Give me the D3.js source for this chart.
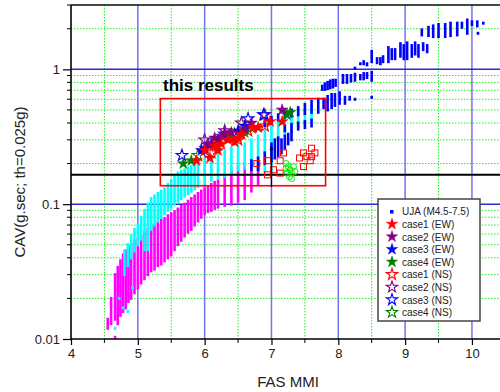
<!DOCTYPE html>
<html>
<head>
<meta charset="utf-8">
<script src="https://cdn.jsdelivr.net/npm/d3@7"></script>
<style>
  html, body { margin: 0; padding: 0; background: #fff; }
  svg text { font-family: "Liberation Sans", Arial, sans-serif; }
</style>
</head>
<body>
<div id="chart"></div>
<script>
// UJA columns: [FAS MMI, CAV low, CAV high]
const ujaMagenta = [
  [4.55, 0.012, 0.014], [4.60, 0.013, 0.020], [4.66, 0.0103, 0.0103], [4.66, 0.014, 0.030],
  [4.70, 0.013, 0.034], [4.74, 0.015, 0.038], [4.78, 0.016, 0.042], [4.82, 0.017, 0.045],
  [4.86, 0.019, 0.048], [4.90, 0.020, 0.050], [4.95, 0.022, 0.053], [5.00, 0.024, 0.055],
  [5.05, 0.026, 0.058], [5.10, 0.028, 0.062], [5.15, 0.030, 0.065], [5.20, 0.032, 0.068],
  [5.25, 0.033, 0.070], [5.30, 0.035, 0.073], [5.35, 0.036, 0.076], [5.40, 0.038, 0.078],
  [5.45, 0.040, 0.082], [5.50, 0.042, 0.085], [5.55, 0.046, 0.088], [5.60, 0.050, 0.092],
  [5.65, 0.054, 0.096], [5.70, 0.058, 0.100], [5.75, 0.062, 0.105], [5.80, 0.065, 0.110],
  [5.85, 0.070, 0.115], [5.90, 0.075, 0.120], [5.95, 0.080, 0.125], [6.00, 0.085, 0.130],
  [6.05, 0.088, 0.135], [6.10, 0.090, 0.140], [6.15, 0.093, 0.145], [6.20, 0.095, 0.150],
  [6.30, 0.098, 0.160], [6.40, 0.100, 0.175], [6.50, 0.105, 0.190], [6.60, 0.110, 0.200],
  [6.70, 0.125, 0.210], [6.80, 0.140, 0.205]
];
const ujaCyan = [
  [4.66, 0.012, 0.012], [4.72, 0.020, 0.020], [4.78, 0.017, 0.017], [4.85, 0.016, 0.016],
  [4.92, 0.024, 0.024], [4.80, 0.030, 0.045], [4.85, 0.035, 0.050], [4.90, 0.040, 0.058],
  [4.95, 0.045, 0.065], [5.00, 0.050, 0.070], [5.05, 0.055, 0.080], [5.10, 0.046, 0.090],
  [5.15, 0.046, 0.100], [5.20, 0.065, 0.110], [5.25, 0.070, 0.115], [5.30, 0.075, 0.120],
  [5.35, 0.080, 0.125], [5.40, 0.085, 0.130], [5.45, 0.090, 0.140], [5.50, 0.095, 0.150],
  [5.55, 0.100, 0.160], [5.60, 0.105, 0.170], [5.65, 0.110, 0.175], [5.70, 0.115, 0.180],
  [5.75, 0.120, 0.185], [5.80, 0.125, 0.190], [5.85, 0.130, 0.200], [5.90, 0.135, 0.205],
  [6.00, 0.140, 0.215], [6.10, 0.150, 0.225], [6.20, 0.155, 0.240], [6.30, 0.160, 0.250],
  [6.40, 0.170, 0.260], [6.50, 0.180, 0.270], [6.60, 0.185, 0.280], [6.70, 0.190, 0.300],
  [6.80, 0.180, 0.320], [6.90, 0.175, 0.350], [7.00, 0.170, 0.380], [7.10, 0.300, 0.400],
  [7.20, 0.330, 0.430], [7.30, 0.360, 0.450], [7.40, 0.380, 0.470], [7.50, 0.400, 0.500],
  [7.60, 0.420, 0.530]
];
const ujaBlue = [
  [6.70, 0.18, 0.21], [6.80, 0.18, 0.22], [6.90, 0.20, 0.24], [7.00, 0.21, 0.28],
  [7.05, 0.22, 0.30], [7.10, 0.23, 0.31], [7.15, 0.24, 0.30], [7.20, 0.26, 0.32],
  [7.25, 0.28, 0.33], [7.30, 0.30, 0.34],
  [7.20, 0.35, 0.38], [7.30, 0.35, 0.39], [7.40, 0.36, 0.40], [7.50, 0.37, 0.41], [7.60, 0.38, 0.42],
  [6.90, 0.38, 0.42], [7.00, 0.40, 0.44], [7.10, 0.42, 0.46], [7.20, 0.44, 0.48],
  [7.30, 0.45, 0.50], [7.40, 0.46, 0.52], [7.50, 0.47, 0.55], [7.60, 0.48, 0.58],
  [7.70, 0.48, 0.60], [7.78, 0.52, 0.60], [7.84, 0.50, 0.63], [7.90, 0.52, 0.65],
  [7.95, 0.54, 0.65], [8.02, 0.56, 0.67], [8.10, 0.56, 0.62], [8.17, 0.60, 0.62],
  [8.25, 0.60, 0.60], [8.50, 0.62, 0.62],
  [7.76, 0.71, 0.75], [7.80, 0.71, 0.78], [7.84, 0.72, 0.80], [7.88, 0.73, 0.82],
  [7.92, 0.74, 0.83], [7.96, 0.76, 0.83], [8.07, 0.80, 0.90], [8.13, 0.80, 0.90],
  [8.19, 0.82, 0.90], [8.25, 0.83, 0.92], [8.33, 0.85, 0.90], [8.38, 0.85, 0.93],
  [8.43, 0.87, 0.93], [8.50, 0.83, 0.95],
  [8.25, 1.02, 1.02], [8.33, 1.10, 1.10], [8.38, 1.10, 1.14], [8.43, 1.08, 1.10],
  [8.50, 1.14, 1.36], [8.58, 1.12, 1.20], [8.63, 1.10, 1.20], [8.67, 1.14, 1.24],
  [8.75, 1.14, 1.45], [8.80, 1.20, 1.40], [8.85, 1.20, 1.40], [8.93, 1.25, 1.55],
  [8.98, 1.20, 1.50], [9.03, 1.20, 1.57], [9.10, 1.25, 1.50], [9.15, 1.30, 1.57],
  [9.20, 1.25, 1.50], [9.27, 1.40, 1.55], [9.33, 1.35, 1.50],
  [9.25, 1.80, 1.96], [9.35, 1.78, 2.05], [9.42, 1.75, 2.10], [9.50, 1.75, 2.15],
  [9.60, 1.75, 2.15], [9.68, 1.78, 2.20], [9.78, 1.80, 2.20], [9.85, 2.05, 2.20],
  [9.93, 1.85, 2.32], [10.00, 2.15, 2.25], [10.08, 2.10, 2.25], [10.09, 1.85, 1.85],
  [10.17, 2.20, 2.20]
];

// stars: [FAS MMI, CAV]
const case1EW = [[5.88, 0.21], [6.08, 0.22], [6.00, 0.25], [6.15, 0.27], [6.25, 0.28], [6.35, 0.30],
  [6.50, 0.31], [6.55, 0.33], [6.73, 0.37], [6.80, 0.37], [6.98, 0.41], [7.16, 0.41], [6.45, 0.29], [6.20, 0.25]];
const case2EW = [[6.05, 0.28], [6.15, 0.31], [6.25, 0.32], [6.40, 0.34], [6.60, 0.36], [6.70, 0.40], [7.16, 0.50], [6.30, 0.33]];
const case3EW = [[5.95, 0.25], [6.10, 0.28], [6.20, 0.30], [6.35, 0.31], [6.50, 0.35], [6.60, 0.38], [6.00, 0.26]];
const case4EW = [[5.68, 0.20], [5.80, 0.21], [6.40, 0.31], [6.60, 0.34], [7.23, 0.46], [7.28, 0.48], [6.20, 0.27]];
const case1NS = [[6.90, 0.38], [6.10, 0.24], [6.50, 0.30], [6.65, 0.35]];
const case2NS = [[6.90, 0.46], [6.30, 0.35], [6.00, 0.30], [6.55, 0.40]];
const case3NS = [[5.66, 0.23], [6.65, 0.43], [6.88, 0.46], [6.30, 0.33]];
const case4NS = [[6.45, 0.33], [5.90, 0.23], [6.70, 0.37]];

// unlabelled marks
const redSquares = [[7.18, 0.24], [6.94, 0.21], [7.13, 0.21], [7.03, 0.18], [6.94, 0.165], [7.13, 0.17],
  [7.48, 0.24], [7.60, 0.26], [7.65, 0.24], [7.53, 0.225], [7.60, 0.225], [7.42, 0.22], [7.58, 0.21], [7.48, 0.19], [6.78, 0.20]];
const greenCircles = [[7.22, 0.20], [7.25, 0.19], [7.28, 0.18], [7.24, 0.17], [7.30, 0.17], [7.35, 0.175],
  [7.27, 0.16], [7.30, 0.155], [7.22, 0.185], [7.33, 0.19]];

const xTicks = [4, 5, 6, 7, 8, 9, 10];
const yTicks = [0.01, 0.1, 1];
const thresholdCAV = 0.165;
const resultBox = { x0: 5.337, x1: 7.81, y0: 0.137, y1: 0.607 };
const arrowSeg = { x: 7.0, from: 0.134, to: 0.262 };

const legendItems = [
  { label: "UJA (M4.5-7.5)", kind: "square", color: "#0000ff" },
  { label: "case1 (EW)", kind: "star", fill: true, color: "#ff0000" },
  { label: "case2 (EW)", kind: "star", fill: true, color: "#800080" },
  { label: "case3 (EW)", kind: "star", fill: true, color: "#0000ff" },
  { label: "case4 (EW)", kind: "star", fill: true, color: "#008000" },
  { label: "case1 (NS)", kind: "star", fill: false, color: "#ff0000" },
  { label: "case2 (NS)", kind: "star", fill: false, color: "#800080" },
  { label: "case3 (NS)", kind: "star", fill: false, color: "#0000ff" },
  { label: "case4 (NS)", kind: "star", fill: false, color: "#008000" }
];

const width = 500, height = 392;
const margin = { top: 5, right: 0, bottom: 53, left: 71 };

const svg = d3.select("#chart").append("svg")
  .attr("width", width).attr("height", height);

const x = d3.scaleLinear().domain([4, 10.42]).range([margin.left, width - margin.right]);
const y = d3.scaleLog().domain([0.01, 3]).range([height - margin.bottom, margin.top]);

// grid
const minorX = d3.range(4.5, 10.5, 1);
const minorY = [];
[0.01, 0.1, 1].forEach(d => { for (let k = 2; k <= 9; k++) if (d * k <= 3) minorY.push(d * k); });

const grid = svg.append("g");
grid.selectAll(".gx").data(minorX).join("line")
  .attr("x1", d => x(d)).attr("x2", d => x(d))
  .attr("y1", y(3)).attr("y2", y(0.01))
  .attr("stroke", "#22ee22").attr("stroke-width", 1).attr("stroke-dasharray", "1.5,1.5");
grid.selectAll(".gy").data(minorY).join("line")
  .attr("x1", x(4)).attr("x2", width)
  .attr("y1", d => y(d)).attr("y2", d => y(d))
  .attr("stroke", "#22ee22").attr("stroke-width", 1).attr("stroke-dasharray", "1.5,1.5");
grid.selectAll(".bx").data(xTicks.slice(1)).join("line")
  .attr("x1", d => x(d)).attr("x2", d => x(d))
  .attr("y1", y(3)).attr("y2", y(0.01))
  .attr("stroke", "#7373f2").attr("stroke-width", 1.5);
grid.selectAll(".by").data([0.1, 1]).join("line")
  .attr("x1", x(4)).attr("x2", width)
  .attr("y1", d => y(d)).attr("y2", d => y(d))
  .attr("stroke", "#2a2ad8").attr("stroke-width", 1.5);

// data columns, drawn as stacks of small squares
function drawColumns(data, color) {
  svg.append("g").selectAll("rect").data(data).join("rect")
    .attr("x", d => x(d[0]) - 1.3)
    .attr("y", d => y(d[2]) - 1.5)
    .attr("width", 2.6)
    .attr("height", d => y(d[1]) - y(d[2]) + 3)
    .attr("fill", color);
}
drawColumns(ujaMagenta, "#ff00ff");
drawColumns(ujaCyan, "#00ffff");
drawColumns(ujaBlue, "#0000ff");

// red result box and threshold line
svg.append("line")
  .attr("x1", x(4)).attr("x2", width)
  .attr("y1", y(thresholdCAV)).attr("y2", y(thresholdCAV))
  .attr("stroke", "#000").attr("stroke-width", 2);
svg.append("rect")
  .attr("x", x(resultBox.x0)).attr("y", y(resultBox.y1))
  .attr("width", x(resultBox.x1) - x(resultBox.x0))
  .attr("height", y(resultBox.y0) - y(resultBox.y1))
  .attr("fill", "none").attr("stroke", "#ff0000").attr("stroke-width", 1.6);

// unlabelled marks
svg.append("g").selectAll("rect").data(redSquares).join("rect")
  .attr("x", d => x(d[0]) - 3).attr("y", d => y(d[1]) - 3)
  .attr("width", 6).attr("height", 6)
  .attr("fill", "none").attr("stroke", "#ff0000").attr("stroke-width", 1);
svg.append("g").selectAll("circle").data(greenCircles).join("circle")
  .attr("cx", d => x(d[0])).attr("cy", d => y(d[1])).attr("r", 3)
  .attr("fill", "none").attr("stroke", "#00ee00").attr("stroke-width", 1);

// stars
const star = d3.symbol().type(d3.symbolStar).size(42);
function drawStars(data, color, filled) {
  svg.append("g").selectAll("path").data(data).join("path")
    .attr("d", star)
    .attr("transform", d => `translate(${x(d[0])},${y(d[1])})`)
    .attr("fill", filled ? color : "none")
    .attr("stroke", color).attr("stroke-width", filled ? 0.5 : 1.1);
}
drawStars(case1NS, "#ff0000", false);
drawStars(case2NS, "#800080", false);
drawStars(case3NS, "#0000ff", false);
drawStars(case4NS, "#008000", false);
drawStars(case3EW, "#0000ff", true);
drawStars(case4EW, "#008000", true);
drawStars(case2EW, "#800080", true);
drawStars(case1EW, "#ff0000", true);

// arrow
svg.append("defs").append("marker")
  .attr("id", "head").attr("viewBox", "0 0 10 10")
  .attr("refX", 5).attr("refY", 5).attr("markerWidth", 4).attr("markerHeight", 5)
  .attr("orient", "auto")
  .append("path").attr("d", "M0,1 L10,5 L0,9 Z").attr("fill", "#000");
svg.append("line")
  .attr("x1", x(arrowSeg.x)).attr("x2", x(arrowSeg.x))
  .attr("y1", y(arrowSeg.from)).attr("y2", y(arrowSeg.to))
  .attr("stroke", "#000").attr("stroke-width", 1.3)
  .attr("marker-end", "url(#head)");

svg.append("text")
  .attr("x", 163).attr("y", 91)
  .attr("font-size", 17).attr("font-weight", "bold")
  .text("this results");

// axes
const xAxis = d3.axisBottom(x).tickValues(xTicks).tickFormat(d3.format("d")).tickSize(6).tickPadding(4);
const gx = svg.append("g").attr("transform", `translate(0,${y(0.01)})`).call(xAxis);
gx.select(".domain").attr("d", `M${x(4)},0H${width}`).attr("stroke-width", 1.6);
gx.selectAll(".tick line").attr("stroke-width", 1.2);
gx.selectAll(".tick text").attr("font-size", 13).attr("fill", "#222");
gx.selectAll(".mx").data(minorX).join("line").attr("class", "mx")
  .attr("x1", d => x(d)).attr("x2", d => x(d)).attr("y1", 0).attr("y2", 4)
  .attr("stroke", "#000");

const yAxis = d3.axisLeft(y).tickValues(yTicks).tickFormat(d => d3.format("~g")(d)).tickSize(8).tickPadding(3);
const gy = svg.append("g").attr("transform", `translate(${x(4)},0)`).call(yAxis);
gy.select(".domain").attr("d", `M0,${y(0.01)}V${y(3)}`).attr("stroke-width", 1.6);
gy.selectAll(".tick line").attr("stroke-width", 1.2);
gy.selectAll(".tick text").attr("font-size", 13).attr("fill", "#222");
gy.selectAll(".my").data(minorY).join("line").attr("class", "my")
  .attr("x1", -4).attr("x2", 0).attr("y1", d => y(d)).attr("y2", d => y(d))
  .attr("stroke", "#000");

// top frame
svg.append("line").attr("x1", x(4)).attr("x2", width).attr("y1", y(3)).attr("y2", y(3))
  .attr("stroke", "#111").attr("stroke-width", 1.6);

svg.append("text")
  .attr("x", 288).attr("y", 387).attr("text-anchor", "middle")
  .attr("font-size", 15).attr("fill", "#222").text("FAS MMI");
svg.append("text")
  .attr("transform", "translate(25,182) rotate(-90)").attr("text-anchor", "middle")
  .attr("font-size", 15).attr("fill", "#222").text("CAV(g.sec; th=0.025g)");

// legend
const lg = svg.append("g").attr("transform", "translate(378,199)");
lg.append("rect").attr("width", 102).attr("height", 122)
  .attr("fill", "#fff").attr("stroke", "#444").attr("stroke-width", 1.5);
const rows = lg.selectAll(".row").data(legendItems).join("g")
  .attr("transform", (d, i) => `translate(0,${12.5 + i * 12.6})`);
rows.each(function (d) {
  const g = d3.select(this);
  if (d.kind === "square") {
    g.append("rect").attr("x", 12).attr("y", -1.5).attr("width", 3.5).attr("height", 3.5).attr("fill", d.color);
  } else {
    g.append("path").attr("d", d3.symbol().type(d3.symbolStar).size(40)())
      .attr("transform", "translate(14,0)")
      .attr("fill", d.fill ? d.color : "none")
      .attr("stroke", d.color).attr("stroke-width", d.fill ? 0.5 : 1.1);
  }
  g.append("text").attr("x", 24).attr("y", 3.8).attr("font-size", 10).attr("fill", "#222").text(d.label);
});
</script>
</body>
</html>
